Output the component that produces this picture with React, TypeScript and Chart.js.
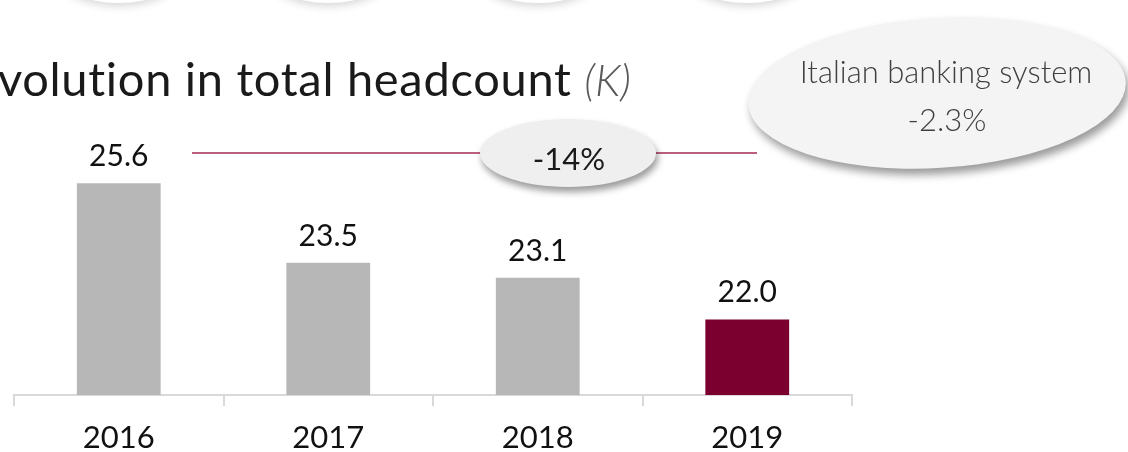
import React, { useEffect, useRef } from 'react';
import { Chart, registerables } from 'chart.js';

Chart.register(...registerables);

const categories = ['2016', '2017', '2018', '2019'];
const headcount = [25.6, 23.5, 23.1, 22.0];
const barColors = ['#b7b7b7', '#b7b7b7', '#b7b7b7', '#7b0030'];
const yMin = 20;
const yMax = 30;
const titleMain = 'Evolution in total headcount';
const titleUnit = '(K)';
const changeLabel = '-14%';
const systemLines = ['Italian banking system', '-2.3%'];

const decorPlugin = {
  id: 'decor',
  afterDraw(chart: any) {
    const ctx = chart.ctx as CanvasRenderingContext2D;
    const meta = chart.getDatasetMeta(0);
    ctx.save();
    // top circles (cut off)
    meta.data.forEach((bar: any) => {
      ctx.save();
      ctx.shadowColor = 'rgba(0,0,0,0.16)';
      ctx.shadowBlur = 9;
      ctx.shadowOffsetY = 3;
      ctx.fillStyle = '#ffffff';
      ctx.beginPath();
      ctx.ellipse(bar.x, -30, 64, 33, 0, 0, Math.PI * 2);
      ctx.fill();
      ctx.restore();
    });

    // title
    ctx.textBaseline = 'alphabetic';
    ctx.textAlign = 'left';
    (ctx as any).letterSpacing = '0.7px';
    ctx.font = '400 47px Lato';
    const eW = ctx.measureText('E').width;
    const startX = -eW - 1;
    ctx.fillStyle = '#1a1a1a';
    ctx.fillText(titleMain, startX, 96);
    const mainW = ctx.measureText(titleMain + ' ').width;
    (ctx as any).letterSpacing = '0px';
    ctx.font = 'italic 300 43px Lato';
    ctx.fillStyle = '#595959';
    ctx.fillText(titleUnit, startX + mainW, 96);

    // data labels
    ctx.font = '400 30px Lato';
    ctx.fillStyle = '#111111';
    ctx.textAlign = 'center';
    meta.data.forEach((bar: any, i: number) => {
      ctx.fillText(headcount[i].toFixed(1), bar.x, bar.y - 17);
    });

    // connector line
    ctx.strokeStyle = '#a52a55';
    ctx.lineWidth = 1.5;
    ctx.beginPath();
    ctx.moveTo(192, 153);
    ctx.lineTo(757, 153);
    ctx.stroke();

    // -14% bubble
    ctx.save();
    ctx.shadowColor = 'rgba(0,0,0,0.4)';
    ctx.shadowBlur = 7;
    ctx.shadowOffsetX = 2;
    ctx.shadowOffsetY = 5;
    ctx.fillStyle = '#efefef';
    ctx.beginPath();
    ctx.ellipse(568, 153, 88, 34, 0, 0, Math.PI * 2);
    ctx.fill();
    ctx.restore();
    ctx.fillStyle = '#1a1a1a';
    ctx.font = '400 31px Lato';
    ctx.fillText(changeLabel, 569, 170);

    // Italian banking system bubble
    ctx.save();
    ctx.shadowColor = 'rgba(0,0,0,0.4)';
    ctx.shadowBlur = 8;
    ctx.shadowOffsetX = 3;
    ctx.shadowOffsetY = 6;
    ctx.fillStyle = '#f4f4f4';
    ctx.beginPath();
    ctx.ellipse(937, 93, 189, 75, -0.06, 0, Math.PI * 2);
    ctx.fill();
    ctx.restore();
    ctx.fillStyle = '#404040';
    ctx.font = '300 31px Lato';
    ctx.fillText(systemLines[0], 946, 83);
    ctx.fillText(systemLines[1], 947, 131);
    ctx.restore();
  },
};

export default function App() {
  const ref = useRef<HTMLCanvasElement>(null);
  useEffect(() => {
    if (!ref.current) return;
    const chart = new Chart(ref.current, {
      type: 'bar',
      data: {
        labels: categories,
        datasets: [
          {
            data: headcount,
            backgroundColor: barColors,
            barPercentage: 0.4,
            categoryPercentage: 1,
            borderWidth: 0,
          },
        ],
      },
      options: {
        animation: false,
        responsive: false,
        devicePixelRatio: 1,
        layout: { padding: { left: 14, right: 276, top: 17, bottom: 0 } },
        plugins: { legend: { display: false }, tooltip: { enabled: false }, title: { display: false } },
        scales: {
          x: {
            offset: true,
            grid: {
              offset: true,
              drawOnChartArea: false,
              drawTicks: true,
              tickLength: 11,
              color: '#d9d9d9',
              lineWidth: 2,
            },
            border: { display: true, color: '#d9d9d9', width: 2 },
            ticks: { font: { family: 'Lato', size: 31 }, color: '#111111', padding: 13 },
            afterFit: (scale: any) => {
              scale.height = 57;
            },
          },
          y: { display: false, min: yMin, max: yMax },
        },
      },
      plugins: [decorPlugin],
    });
    return () => chart.destroy();
  }, []);
  return (
    <div style={{ position: 'absolute', left: 0, top: 0, width: 1128, height: 452, background: '#fff' }}>
      <canvas ref={ref} width={1128} height={452} />
    </div>
  );
}
